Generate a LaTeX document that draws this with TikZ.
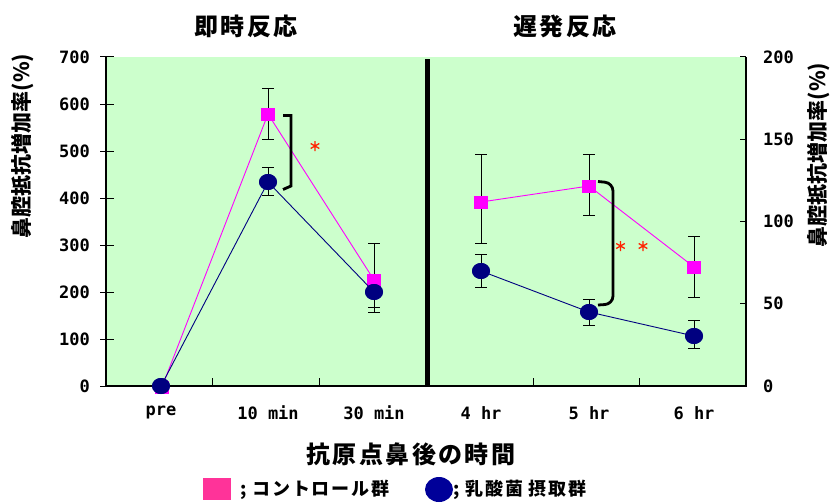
\documentclass[tikz,border=0pt]{standalone}
\usepackage{fontspec}
\usetikzlibrary{shapes.geometric}
\newfontfamily\jp{Noto Sans CJK JP}
\newfontfamily\jpls{Noto Sans CJK JP}[LetterSpace=10]
\newfontfamily\numf{DejaVu Sans Mono}
\definecolor{plotbg}{HTML}{CCFFCC}
\definecolor{mag}{HTML}{FF00FF}
\definecolor{navyc}{HTML}{000080}
\definecolor{legpink}{HTML}{FF3399}
\definecolor{legblue}{HTML}{000099}
\definecolor{starred}{HTML}{FF2200}
\begin{document}
\begin{tikzpicture}[x=1pt,y=-1pt,
  sq/.style={rectangle, fill=mag, minimum width=14pt, minimum height=13pt, inner sep=0pt},
  circ/.style={ellipse, fill=navyc, minimum width=18pt, minimum height=16pt, inner sep=0pt},
  ticklab/.style={font=\numf\bfseries\fontsize{17}{17}\selectfont, inner sep=0pt},
  ebar/.style={black, line width=0.8pt},
  magline/.style={mag, line width=0.9pt},
  navline/.style={navyc, line width=0.9pt},
  brk/.style={black, line width=2.8pt},
  legtext/.style={font=\jpls\bfseries\fontsize{18}{18}\selectfont, anchor=west, inner sep=0pt},
  astpic/.pic={\draw[starred, line width=1.3pt] (0,-5)--(0,5) (-4.3,-2.5)--(4.3,2.5) (-4.3,2.5)--(4.3,-2.5);}
]
\useasboundingbox (0,0) rectangle (832,503);
% plot area
\fill[plotbg] (106,57) rectangle (746,386);
% error bars
\foreach \x/\t/\b in {268/88/139, 268/167/195, 374/243/312, 481/154/243, 481/254/287, 589/154/215, 589/299/325, 694/236/297, 694/320/348}{
  \draw[ebar] (\x,\t) -- (\x,\b) (\x-6,\t) -- (\x+6,\t) (\x-6,\b) -- (\x+6,\b);
}
\draw[ebar] (368,307) -- (380,307);
% axes
\draw[line width=1.2pt] (106,57) -- (106,386) -- (746,386) -- (746,57);
\foreach \k in {0,...,7}{
  \draw[line width=1pt] (100,386-47*\k) -- (114,386-47*\k);
  \node[ticklab, anchor=east] at (90,386-47*\k) {\the\numexpr\k*100\relax};
}
\foreach \k in {0,...,4}{
  \draw[line width=1pt] (740,386-82.25*\k) -- (746,386-82.25*\k);
  \node[ticklab, anchor=west] at (763,386-82.25*\k) {\the\numexpr\k*50\relax};
}
\foreach \x in {212,319,533,639}{
  \draw[line width=1pt] (\x,378) -- (\x,386);
}
% divider
\fill[black] (425,59) rectangle (430,386);
% data markers
\node[sq] (s1) at (162,387) {};
\node[sq] (s2) at (268,114) {};
\node[sq] (s3) at (374,280) {};
\node[sq] (s4) at (481,202) {};
\node[sq] (s5) at (589,186) {};
\node[sq] (s6) at (694,267) {};
\draw[magline] (s1.center) -- (s2.center) -- (s3.center);
\draw[magline] (s4.center) -- (s5.center) -- (s6.center);
\node[sq] at (s1) {};\node[sq] at (s2) {};\node[sq] at (s3) {};
\node[sq] at (s4) {};\node[sq] at (s5) {};\node[sq] at (s6) {};
\node[circ] (c1) at (161,386) {};
\node[circ] (c2) at (268,182) {};
\node[circ] (c3) at (374,292) {};
\node[circ] (c4) at (481,271) {};
\node[circ] (c5) at (589,312) {};
\node[circ] (c6) at (694,336) {};
\draw[navline] (c1.center) -- (c2.center) -- (c3.center);
\draw[navline] (c4.center) -- (c5.center) -- (c6.center);
\node[circ] at (c1) {};\node[circ] at (c2) {};\node[circ] at (c3) {};
\node[circ] at (c4) {};\node[circ] at (c5) {};\node[circ] at (c6) {};
% significance brackets
\draw[brk] (283,115.5) -- (291,115.5) -- (291,186) -- (283,189.5);
\draw[brk, rounded corners=8pt] (598,181.5) -- (613,183) -- (613,304) -- (598,305);
\pic at (315,146) {astpic};
\pic at (620.5,246) {astpic};
\pic at (643,246) {astpic};
% titles
\node[font=\jpls\bfseries\fontsize{24}{24}\selectfont] (t1) at (246,26) {即時反応};
\node[font=\jpls\bfseries\fontsize{24}{24}\selectfont] (t2) at (565,26) {遅発反応};
% category labels
\foreach \x/\lab in {161/pre, 268/10 min, 374/30 min, 481/4 hr, 589/5 hr, 694/6 hr}{
  \node[ticklab] at (\x,413) {\lab};
}
% axis titles
\node[font=\jpls\bfseries\fontsize{24}{24}\selectfont] (xl) at (411,454) {抗原点鼻後の時間};
\node[rotate=90, font=\jp\bfseries\fontsize{21}{21}\selectfont] (yl) at (23,146) {鼻腔抵抗増加率(\%)};
\node[rotate=90, font=\jp\bfseries\fontsize{21}{21}\selectfont] (yr) at (819,155) {鼻腔抵抗増加率(\%)};
% legend
\node[rectangle, fill=legpink, minimum width=28pt, minimum height=22pt, inner sep=0pt] (lsq) at (217,489) {};
\node[legtext] (lt1) at (240,490) {; コントロール群};
\node[ellipse, fill=legblue, minimum width=28pt, minimum height=25pt, inner sep=0pt] (lci) at (439,489.5) {};
\node[legtext] (lt2) at (453,490) {; 乳酸菌 摂取群};
\end{tikzpicture}
\end{document}
